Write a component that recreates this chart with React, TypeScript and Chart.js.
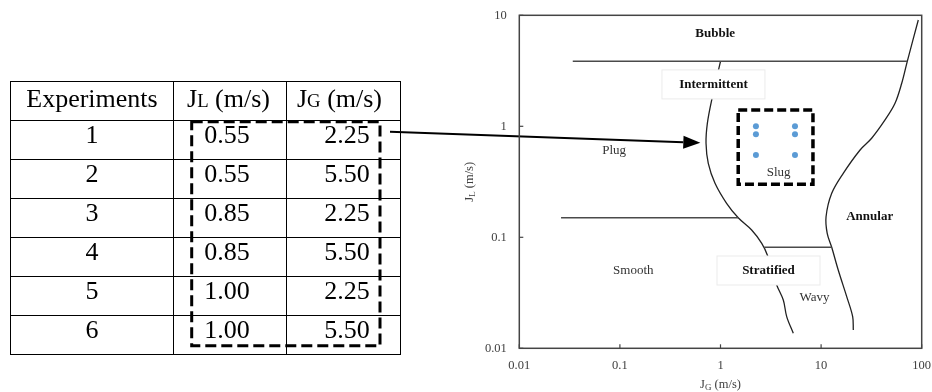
import React, { useEffect, useRef } from 'react';
import { Chart, registerables } from 'chart.js';

Chart.register(...registerables);

// ---- Table / experiment data ----
const experimentIds = [1, 2, 3, 4, 5, 6];
const jlValues = [0.55, 0.55, 0.85, 0.85, 1.0, 1.0];
const jgValues = [2.25, 5.5, 2.25, 5.5, 2.25, 5.5];

// ---- Axis ticks ----
const xTickValues = [0.01, 0.1, 1, 10, 100];
const xTickLabels = ['0.01', '0.1', '1', '10', '100'];
const yTickValues = [0.01, 0.1, 1, 10];
const yTickLabels = ['0.01', '0.1', '1', '10'];

// ---- Flow regime boundaries (JG, JL) ----
const bubbleBoundaryX = [0.034, 71.9];
const bubbleBoundaryY = [3.85, 3.85];

const slugBoundaryX = [1.0, 0.82, 0.74, 0.718, 0.756, 0.882, 1.15, 1.5, 2.04, 2.57, 2.92, 3.62, 4.21, 4.55, 5.29];
const slugBoundaryY = [3.85, 1.75, 1.064, 0.703, 0.464, 0.307, 0.2025, 0.15, 0.1164, 0.0883, 0.0693, 0.0372, 0.0272, 0.0193, 0.01365];

const annularBoundaryX = [92.5, 71.9, 63.3, 54.3, 43.2, 31.8, 24.4, 16.6, 12.75, 11.2, 11.5, 12.75, 14.8, 17.97, 20.6, 20.9];
const annularBoundaryY = [9.07, 3.85, 2.44, 1.61, 1.14, 0.78, 0.612, 0.377, 0.249, 0.1533, 0.1086, 0.0813, 0.0507, 0.0292, 0.01927, 0.01462];

const plugBoundaryX = [0.026, 1.5];
const plugBoundaryY = [0.15, 0.15];

const wavyBoundaryX = [2.72, 12.75];
const wavyBoundaryY = [0.0813, 0.0813];

// ---- Region labels ----
const regionLabels = ['Bubble', 'Intermittent', 'Plug', 'Slug', 'Annular', 'Smooth', 'Stratified', 'Wavy'];
const regionLabelX = [0.885, 0.851, 0.0876, 3.78, 30.4, 0.136, 3.0, 8.61];
const regionLabelY = [6.88, 2.36, 0.603, 0.385, 0.153, 0.0497, 0.0497, 0.0288];
const regionLabelBold = [true, true, false, false, true, false, true, false];
const regionLabelBoxed = [false, true, false, false, false, false, true, false];

// ---- Study window & arrow target ----
const studyWindowX = [1.5, 8.3];
const studyWindowY = [0.3, 1.4];
const arrowTargetX = 0.63;
const arrowTargetY = 0.71;

const SERIF = '"Liberation Serif", "Times New Roman", serif';

const toPoints = (xs: number[], ys: number[]) => xs.map((v, i) => ({ x: v, y: ys[i] }));

const lineDs = (xs: number[], ys: number[], color: string, width: number, tension: number) => ({
  type: 'line' as const,
  data: toPoints(xs, ys),
  showLine: true,
  borderColor: color,
  borderWidth: width,
  pointRadius: 0,
  tension,
  fill: false,
});

function drawTitle(ctx: CanvasRenderingContext2D, sub: string) {
  const mainFont = `12.5px ${SERIF}`;
  const subFont = `9px ${SERIF}`;
  ctx.font = mainFont;
  const wJ = ctx.measureText('J').width;
  const wRest = ctx.measureText(' (m/s)').width;
  ctx.font = subFont;
  const wSub = ctx.measureText(sub).width;
  const total = wJ + wSub + wRest;
  let cx = -total / 2;
  ctx.textAlign = 'left';
  ctx.textBaseline = 'alphabetic';
  ctx.font = mainFont;
  ctx.fillText('J', cx, 4);
  cx += wJ;
  ctx.font = subFont;
  ctx.fillText(sub, cx, 5.5);
  cx += wSub;
  ctx.font = mainFont;
  ctx.fillText(' (m/s)', cx, 4);
}

const overlayPlugin = {
  id: 'overlay',
  afterDatasetsDraw(chart: any) {
    const { ctx, chartArea: a } = chart;
    const xs = chart.scales.x;
    const ys = chart.scales.y;
    ctx.save();

    // region labels
    regionLabels.forEach((t, i) => {
      const px = xs.getPixelForValue(regionLabelX[i]);
      const py = ys.getPixelForValue(regionLabelY[i]);
      if (regionLabelBoxed[i]) {
        ctx.fillStyle = '#ffffff';
        ctx.fillRect(px - 51.5, py - 15, 103, 29);
        ctx.strokeStyle = '#ebebeb';
        ctx.lineWidth = 1;
        ctx.strokeRect(px - 51.5, py - 15, 103, 29);
      }
      ctx.font = `${regionLabelBold[i] ? 'bold ' : ''}13px ${SERIF}`;
      ctx.fillStyle = regionLabelBold[i] ? '#111' : '#333';
      ctx.textAlign = 'center';
      ctx.textBaseline = 'middle';
      ctx.fillText(t, px, py);
    });

    // study window (dashed square)
    const l = xs.getPixelForValue(studyWindowX[0]);
    const r = xs.getPixelForValue(studyWindowX[1]);
    const tp = ys.getPixelForValue(studyWindowY[1]);
    const bt = ys.getPixelForValue(studyWindowY[0]);
    ctx.strokeStyle = '#000';
    ctx.lineWidth = 3.5;
    ctx.setLineDash([9, 4]);
    ctx.strokeRect(l, tp, r - l, bt - tp);

    // dashed box on the table
    ctx.lineWidth = 3;
    ctx.setLineDash([11, 5]);
    ctx.strokeRect(191.7, 121.7, 188.3, 224);
    ctx.setLineDash([]);

    // arrow
    const ax = xs.getPixelForValue(arrowTargetX);
    const ay = ys.getPixelForValue(arrowTargetY);
    const sx = 390;
    const sy = 131.7;
    const ang = Math.atan2(ay - sy, ax - sx);
    const headLen = 17;
    const headW = 6.5;
    const bx = ax - headLen * Math.cos(ang);
    const by = ay - headLen * Math.sin(ang);
    ctx.strokeStyle = '#000';
    ctx.lineWidth = 2;
    ctx.beginPath();
    ctx.moveTo(sx, sy);
    ctx.lineTo(bx, by);
    ctx.stroke();
    ctx.fillStyle = '#000';
    ctx.beginPath();
    ctx.moveTo(ax, ay);
    ctx.lineTo(bx + headW * Math.sin(ang), by - headW * Math.cos(ang));
    ctx.lineTo(bx - headW * Math.sin(ang), by + headW * Math.cos(ang));
    ctx.closePath();
    ctx.fill();

    // plot border
    ctx.strokeStyle = '#444';
    ctx.lineWidth = 1.5;
    ctx.strokeRect(a.left, a.top, a.right - a.left, a.bottom - a.top);

    // inner tick marks
    ctx.lineWidth = 1.2;
    xTickValues.forEach((v) => {
      const px = xs.getPixelForValue(v);
      ctx.beginPath();
      ctx.moveTo(px, a.bottom);
      ctx.lineTo(px, a.bottom - 4);
      ctx.stroke();
    });
    yTickValues.forEach((v) => {
      const py = ys.getPixelForValue(v);
      ctx.beginPath();
      ctx.moveTo(a.left, py);
      ctx.lineTo(a.left + 4, py);
      ctx.stroke();
    });

    // axis titles
    ctx.fillStyle = '#404040';
    ctx.save();
    ctx.translate((a.left + a.right) / 2, 384);
    drawTitle(ctx, 'G');
    ctx.restore();
    ctx.save();
    ctx.translate(469, (a.top + a.bottom) / 2);
    ctx.rotate(-Math.PI / 2);
    drawTitle(ctx, 'L');
    ctx.restore();

    ctx.restore();
  },
};

export default function App() {
  const canvasRef = useRef<HTMLCanvasElement>(null);

  useEffect(() => {
    if (!canvasRef.current) return;
    const chart = new Chart(canvasRef.current, {
      type: 'scatter',
      data: {
        datasets: [
          lineDs(bubbleBoundaryX, bubbleBoundaryY, '#4a4a4a', 1.6, 0),
          lineDs(plugBoundaryX, plugBoundaryY, '#4a4a4a', 1.6, 0),
          lineDs(wavyBoundaryX, wavyBoundaryY, '#4a4a4a', 1.6, 0),
          lineDs(slugBoundaryX, slugBoundaryY, '#222', 1.3, 0.35),
          lineDs(annularBoundaryX, annularBoundaryY, '#222', 1.3, 0.35),
          {
            type: 'scatter' as const,
            data: toPoints(jgValues, jlValues),
            backgroundColor: '#5b9bd5',
            borderColor: '#5b9bd5',
            pointRadius: 3,
            borderWidth: 0,
          },
        ] as any,
      },
      options: {
        animation: false,
        responsive: false,
        maintainAspectRatio: false,
        layout: { padding: { left: 457.3, right: 10.3, top: 15.3, bottom: 0 } },
        plugins: { legend: { display: false }, tooltip: { enabled: false } },
        scales: {
          x: {
            type: 'logarithmic',
            min: 0.01,
            max: 100,
            afterFit: (s: any) => {
              s.height = 43.7;
            },
            afterBuildTicks: (s: any) => {
              s.ticks = xTickValues.map((v) => ({ value: v }));
            },
            ticks: {
              autoSkip: false,
              maxRotation: 0,
              padding: 0,
              color: '#404040',
              font: { family: SERIF, size: 12.5 },
              callback: (v: any) => xTickLabels[xTickValues.indexOf(Number(v))] ?? '',
            },
            grid: { display: false, drawTicks: true, tickLength: 10 },
            border: { display: false },
          },
          y: {
            type: 'logarithmic',
            min: 0.01,
            max: 10,
            afterFit: (s: any) => {
              s.width = 62;
            },
            afterBuildTicks: (s: any) => {
              s.ticks = yTickValues.map((v) => ({ value: v }));
            },
            ticks: {
              autoSkip: false,
              padding: 0,
              color: '#404040',
              font: { family: SERIF, size: 12.5 },
              callback: (v: any) => yTickLabels[yTickValues.indexOf(Number(v))] ?? '',
            },
            grid: { display: false, drawTicks: true, tickLength: 12.5 },
            border: { display: false },
          },
        },
      } as any,
      plugins: [overlayPlugin],
    });
    return () => chart.destroy();
  }, []);

  const cell: React.CSSProperties = {
    border: '1.5px solid #000',
    height: 36,
    padding: 0,
    paddingTop: 2,
    textAlign: 'center',
    verticalAlign: 'top',
    lineHeight: 0.95,
  };
  const head: React.CSSProperties = { ...cell, fontWeight: 'normal', lineHeight: 1, paddingTop: 4, height: 34 };
  const sub: React.CSSProperties = { fontSize: '0.72em', lineHeight: 1 };

  return (
    <div style={{ position: 'fixed', left: 0, top: 0, width: 932, height: 392, background: '#fff', overflow: 'hidden' }}>
      <canvas ref={canvasRef} width={932} height={392} style={{ position: 'absolute', left: 0, top: 0, width: 932, height: 392 }} />
      <table
        style={{
          position: 'absolute',
          left: 10,
          top: 81,
          width: 390,
          borderCollapse: 'collapse',
          tableLayout: 'fixed',
          fontFamily: SERIF,
          fontSize: 26,
          color: '#000',
          background: 'transparent',
        }}
      >
        <colgroup>
          <col style={{ width: 163 }} />
          <col style={{ width: 113 }} />
          <col style={{ width: 114 }} />
        </colgroup>
        <thead>
          <tr>
            <th style={head}>Experiments</th>
            <th style={{ ...head, paddingRight: 3 }}>
              J<span style={sub}>L</span> (m/s)
            </th>
            <th style={{ ...head, paddingRight: 8 }}>
              J<span style={sub}>G</span> (m/s)
            </th>
          </tr>
        </thead>
        <tbody>
          {experimentIds.map((id, i) => (
            <tr key={id}>
              <td style={cell}>{id}</td>
              <td style={{ ...cell, paddingRight: 6 }}>{jlValues[i].toFixed(2)}</td>
              <td style={{ ...cell, paddingLeft: 7 }}>{jgValues[i].toFixed(2)}</td>
            </tr>
          ))}
        </tbody>
      </table>
    </div>
  );
}
